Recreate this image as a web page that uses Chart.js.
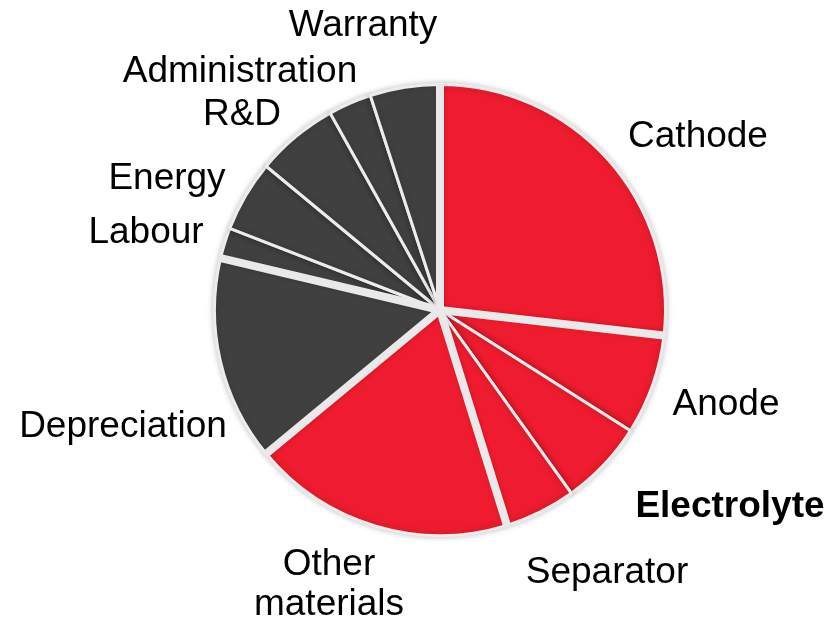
<!DOCTYPE html>
<html>
<head>
<meta charset="utf-8">
<script src="https://cdn.jsdelivr.net/npm/chart.js@4"></script>
<style>
  body { margin: 0; background: #fff; }
  #wrap { width: 831px; height: 622px; position: relative; }
</style>
</head>
<body>
<div id="wrap"><canvas id="graficoCostes"></canvas></div>
<script>
// categories and cost shares (%)
const categorias = ["Cathode", "Anode", "Electrolyte", "Separator", "Other materials",
  "Depreciation", "Labour", "Energy", "R&D", "Administration", "Warranty"];
const valores = [26.8, 7.2, 6.1, 5.1, 18.8, 14.7, 2.2, 5.1, 5.9, 3.1, 5.0];

// styling
const ROJO = "#ee1c2e";
const GRIS = "#404040";
const colores = [ROJO, ROJO, ROJO, ROJO, ROJO, GRIS, GRIS, GRIS, GRIS, GRIS, GRIS];
const corteAncho = [true, true, false, false, true, true, true, false, false, false, false];

// label placement: x centre, baseline y
const etiquetas = [
  { texto: ["Cathode"], x: 698, y: 147 },
  { texto: ["Anode"], x: 726, y: 415 },
  { texto: ["Electrolyte"], x: 730, y: 517, bold: true },
  { texto: ["Separator"], x: 607, y: 583 },
  { texto: ["Other", "materials"], x: 329, y: 575 },
  { texto: ["Depreciation"], x: 123, y: 437 },
  { texto: ["Labour"], x: 146, y: 243 },
  { texto: ["Energy"], x: 167, y: 189 },
  { texto: ["R&D"], x: 242, y: 125 },
  { texto: ["Administration"], x: 240, y: 82 },
  { texto: ["Warranty"], x: 363, y: 36 }
];

const sombra = {
  id: "sombra",
  beforeDatasetsDraw(chart) {
    const ctx = chart.ctx;
    ctx.save();
    ctx.shadowColor = "rgba(0,0,0,0.22)";
    ctx.shadowBlur = 6;
  },
  afterDatasetsDraw(chart) {
    chart.ctx.restore();
  }
};

// wider separators between slice groups
const cortes = {
  id: "cortes",
  afterDatasetsDraw(chart) {
    const ctx = chart.ctx;
    const meta = chart.getDatasetMeta(0);
    ctx.save();
    ctx.strokeStyle = "#e9e9e9";
    ctx.lineWidth = 8;
    meta.data.forEach((arco, i) => {
      if (!corteAncho[i]) return;
      const { x, y, startAngle, outerRadius } = arco.getProps(["x", "y", "startAngle", "outerRadius"], true);
      ctx.beginPath();
      ctx.moveTo(x, y);
      ctx.lineTo(x + Math.cos(startAngle) * (outerRadius + 2), y + Math.sin(startAngle) * (outerRadius + 2));
      ctx.stroke();
    });
    ctx.restore();
  }
};

const textos = {
  id: "textos",
  afterDraw(chart) {
    const ctx = chart.ctx;
    ctx.save();
    ctx.fillStyle = "#000";
    ctx.textAlign = "center";
    ctx.textBaseline = "alphabetic";
    etiquetas.forEach(e => {
      ctx.font = (e.bold ? "bold " : "") + "37px 'Liberation Sans', Arial, sans-serif";
      e.texto.forEach((linea, k) => ctx.fillText(linea, e.x, e.y + k * 40));
    });
    ctx.restore();
  }
};

new Chart(document.getElementById("graficoCostes"), {
  type: "pie",
  data: {
    labels: categorias,
    datasets: [{
      data: valores,
      backgroundColor: colores,
      borderColor: "#ececec",
      borderWidth: 3
    }]
  },
  options: {
    responsive: true,
    maintainAspectRatio: false,
    animation: false,
    layout: { padding: { left: 213, right: 164, top: 83, bottom: 85 } },
    plugins: {
      legend: { display: false },
      tooltip: { enabled: false }
    }
  },
  plugins: [sombra, cortes, textos]
});
</script>
</body>
</html>
